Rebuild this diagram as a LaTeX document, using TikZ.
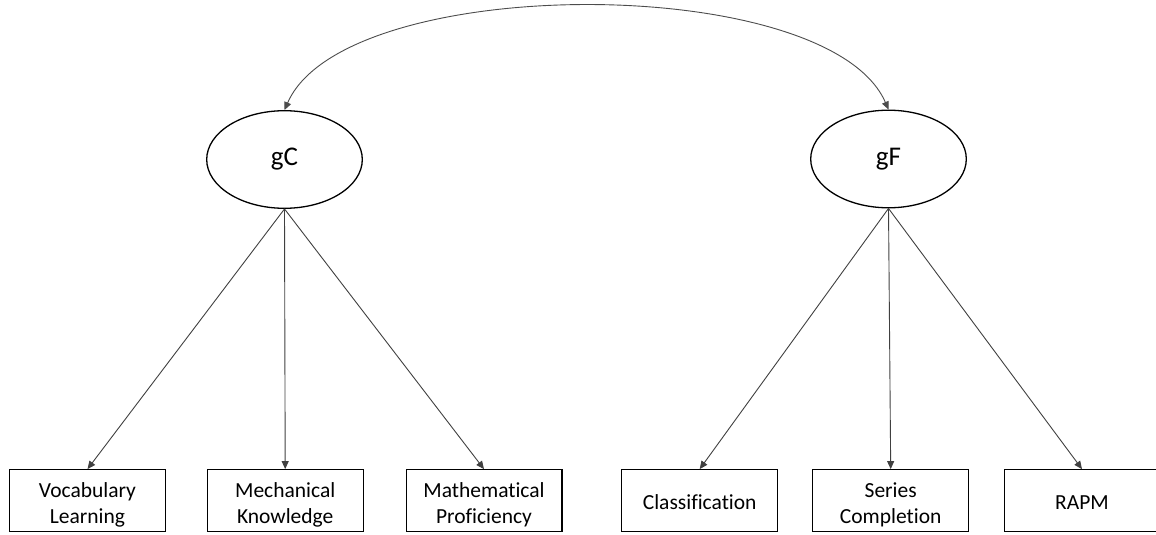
\documentclass[tikz,border=0pt]{standalone}
\usepackage{fontspec}
\setmainfont{Carlito}[Ligatures=CommonOff]
\usetikzlibrary{shapes.geometric,arrows.meta}
\begin{document}
\begin{tikzpicture}[x=1pt,y=-1pt,
  latent/.style={ellipse,draw=black,line width=1.3pt,
    minimum width=155.6pt,minimum height=97.6pt,inner sep=0pt,
    font=\fontsize{27}{32}\selectfont},
  indicator/.style={rectangle,draw=black,line width=1.2pt,
    minimum width=155.8pt,inner sep=0pt,
    align=center,font=\fontsize{21.5}{25.6}\selectfont},
  oneline/.style={text height=39.6pt,text depth=22pt},
  twoline/.style={text height=53.6pt,text depth=8pt},
  link/.style={draw=black!75,line width=0.9pt,-{Triangle[length=8pt,width=7pt]}},
  cov/.style={draw=black!70,line width=0.9pt,
    {Triangle[length=8pt,width=7pt]}-{Triangle[length=8pt,width=7pt]}}]
  \clip (0,0) rectangle (1156,535);

  % latent factors
  \node[latent] (gC) at (284.5,159.5) {gC};
  \node[latent] (gF) at (888.5,159) {gF};

  % observed measures
  \node[indicator,twoline] (voc)  at (87.5,500.5)  {Vocabulary\\Learning};
  \node[indicator,twoline] (mech) at (285.2,500.5) {Mechanical\\Knowledge};
  \node[indicator,twoline] (math) at (484,500.5)   {Mathematical\\Proficiency};
  \node[indicator,oneline] (cls)  at (699.7,500.5) {Classification};
  \node[indicator,twoline] (ser)  at (890.7,500.5) {Series\\Completion};
  \node[indicator,oneline] (rapm) at (1082,500.5)  {RAPM};

  % factor covariance
  \draw[cov] (gC.north) .. controls +(60,-138) and +(-60,-138) .. (gF.north);

  % loadings
  \foreach \m in {voc,mech,math} \draw[link] (gC.south) -- (\m.north);
  \foreach \m in {cls,ser,rapm} \draw[link] (gF.south) -- (\m.north);
\end{tikzpicture}
\end{document}
